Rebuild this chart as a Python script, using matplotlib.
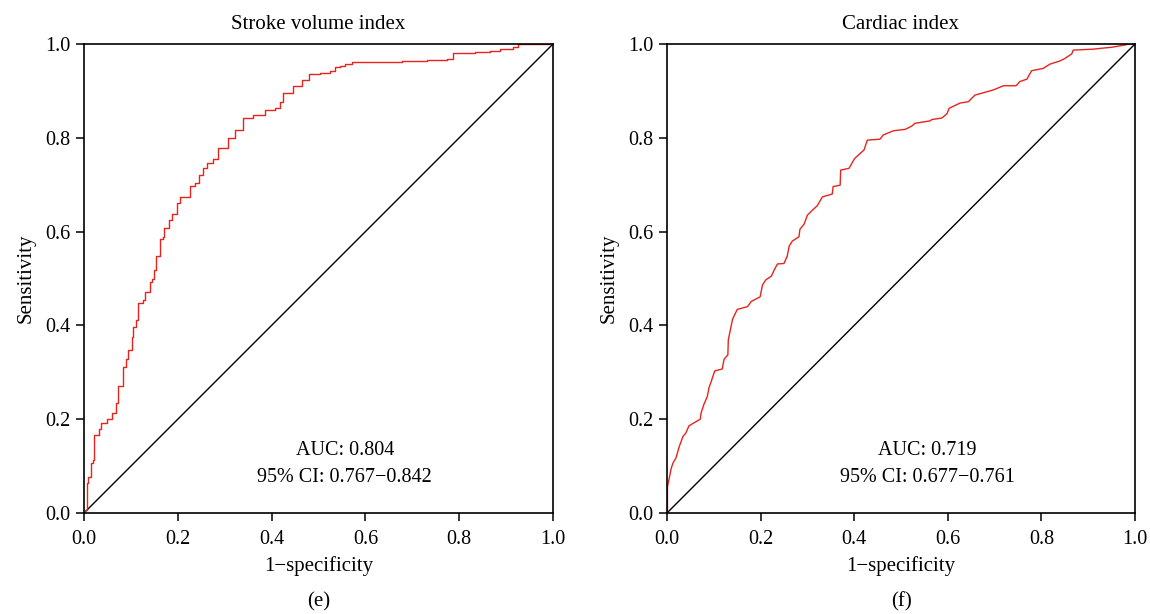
import numpy as np
import matplotlib
matplotlib.use('Agg')
import matplotlib.pyplot as plt

plt.rcParams['font.family'] = ['Liberation Serif', 'DejaVu Serif']

# ROC curve for stroke volume index (1-specificity, sensitivity)
svi_fpr = [0, 0.002, 0.006, 0.009, 0.014, 0.019, 0.021, 0.031, 0.036, 0.048, 0.059,
           0.068, 0.073, 0.084, 0.089, 0.094, 0.102, 0.105, 0.110, 0.115, 0.126,
           0.131, 0.141, 0.146, 0.149, 0.154, 0.161, 0.168, 0.171, 0.182, 0.187,
           0.198, 0.205, 0.225, 0.237, 0.246, 0.254, 0.262, 0.274, 0.286, 0.308,
           0.322, 0.338, 0.361, 0.386, 0.407, 0.418, 0.425, 0.446, 0.464, 0.480,
           0.503, 0.525, 0.535, 0.546, 0.557, 0.571, 0.677, 0.731, 0.773, 0.786,
           0.834, 0.866, 0.887, 0.915, 0.926, 1.0]
svi_tpr = [0, 0.006, 0.064, 0.077, 0.107, 0.113, 0.166, 0.179, 0.192, 0.200, 0.213,
           0.235, 0.271, 0.311, 0.328, 0.348, 0.375, 0.397, 0.412, 0.448, 0.454,
           0.471, 0.493, 0.499, 0.518, 0.548, 0.584, 0.589, 0.607, 0.625, 0.638,
           0.662, 0.674, 0.697, 0.704, 0.721, 0.735, 0.747, 0.754, 0.778, 0.799,
           0.816, 0.842, 0.849, 0.860, 0.863, 0.877, 0.896, 0.911, 0.923, 0.936,
           0.939, 0.942, 0.950, 0.954, 0.957, 0.961, 0.963, 0.966, 0.968, 0.980,
           0.982, 0.986, 0.989, 0.993, 1.0, 1.0]

# ROC curve for cardiac index
ci_fpr = [0, 0.001, 0.001, 0.009, 0.013, 0.019, 0.026, 0.034, 0.040, 0.047, 0.059,
          0.071, 0.073, 0.079, 0.086, 0.090, 0.095, 0.102, 0.118, 0.122, 0.130,
          0.131, 0.140, 0.150, 0.172, 0.180, 0.199, 0.204, 0.211, 0.223, 0.229,
          0.236, 0.250, 0.257, 0.261, 0.268, 0.282, 0.284, 0.293, 0.300, 0.310,
          0.321, 0.332, 0.353, 0.355, 0.370, 0.371, 0.389, 0.401, 0.421, 0.428,
          0.455, 0.462, 0.484, 0.509, 0.523, 0.530, 0.562, 0.566, 0.587, 0.598,
          0.603, 0.626, 0.644, 0.658, 0.697, 0.719, 0.746, 0.754, 0.769, 0.779,
          0.804, 0.818, 0.840, 0.850, 0.865, 0.868, 0.911, 0.929, 0.950, 0.979,
          0.986, 1.0]
ci_tpr = [0, 0.006, 0.056, 0.095, 0.107, 0.117, 0.141, 0.163, 0.170, 0.186, 0.193,
          0.200, 0.214, 0.232, 0.248, 0.268, 0.282, 0.303, 0.307, 0.328, 0.337,
          0.369, 0.413, 0.434, 0.440, 0.451, 0.461, 0.486, 0.497, 0.505, 0.518,
          0.531, 0.532, 0.548, 0.569, 0.580, 0.589, 0.605, 0.616, 0.635, 0.645,
          0.655, 0.674, 0.680, 0.696, 0.699, 0.731, 0.735, 0.756, 0.774, 0.795,
          0.797, 0.806, 0.815, 0.818, 0.825, 0.831, 0.836, 0.839, 0.842, 0.851,
          0.863, 0.874, 0.877, 0.891, 0.902, 0.911, 0.911, 0.920, 0.925, 0.943,
          0.948, 0.957, 0.964, 0.969, 0.979, 0.987, 0.989, 0.991, 0.993, 0.998,
          1.0, 1.0]

panels = [
    ('Stroke volume index', svi_fpr, svi_tpr, 'AUC: 0.804\n95% CI: 0.767\u22120.842', '(e)', 'steps-post'),
    ('Cardiac index', ci_fpr, ci_tpr, 'AUC: 0.719\n95% CI: 0.677\u22120.761', '(f)', 'default'),
]
ticks = [0.0, 0.2, 0.4, 0.6, 0.8, 1.0]

fig = plt.figure(figsize=(11.5, 6.14), dpi=100)
positions = [[84 / 1150, 101 / 614, 469 / 1150, 469 / 614],
             [667 / 1150, 101 / 614, 468 / 1150, 469 / 614]]

for pos, (title, fpr, tpr, auc_txt, tag, ds) in zip(positions, panels):
    ax = fig.add_axes(pos)
    ax.plot([0, 1], [0, 1], color='black', lw=1.0)
    ax.plot(fpr, tpr, color='#e8231c', lw=1.0, drawstyle=ds)
    ax.set_xlim(0, 1)
    ax.set_ylim(0, 1)
    ax.set_xticks(ticks)
    ax.set_yticks(ticks)
    ax.set_xticklabels(['%.1f' % t for t in ticks])
    ax.set_yticklabels(['%.1f' % t for t in ticks])
    ax.tick_params(direction='out', length=6, width=1.1, labelsize=14.5, pad=4)
    ax.tick_params(axis='x', pad=6)
    for s in ax.spines.values():
        s.set_linewidth(1.2)
    ax.set_title(title, fontsize=15, pad=11)
    ax.set_xlabel('1\u2212specificity', fontsize=15, labelpad=5)
    ax.set_ylabel('Sensitivity', fontsize=15, labelpad=7)
    ax.text(0.556, 0.105, auc_txt, ha='center', va='center', fontsize=14.5,
            linespacing=1.55, transform=ax.transData)
    ax.text(0.5, -0.19, tag, ha='center', va='center', fontsize=15, transform=ax.transAxes)

fig.savefig('out.png', dpi=100)
